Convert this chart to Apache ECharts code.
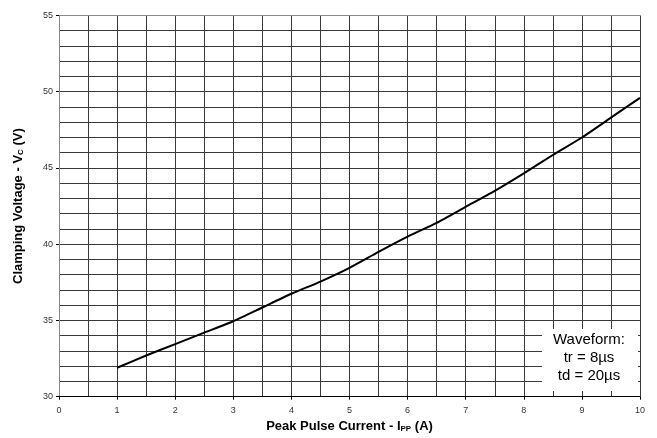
<!DOCTYPE html>
<html>
<head>
<meta charset="utf-8">
<script src="https://cdn.jsdelivr.net/npm/echarts@6/dist/echarts.min.js"></script>
<style>
  html, body { margin: 0; padding: 0; background: #fff; }
  #chart { width: 657px; height: 438px; }
</style>
</head>
<body>
<div id="chart"></div>
<script>
// Peak pulse current (A) vs clamping voltage (V)
const currents = [1, 1.5, 2, 2.5, 3, 3.5, 4, 4.5, 5, 5.5, 6, 6.5, 7, 7.5, 8, 8.5, 9, 9.5, 10];
const voltages = [31.9, 32.7, 33.45, 34.2, 34.95, 35.85, 36.75, 37.55, 38.45, 39.5, 40.5, 41.4, 42.45, 43.5, 44.65, 45.85, 47.0, 48.3, 49.6];
const noteLines = ["Waveform:", "tr = 8\u00b5s", "td = 20\u00b5s"];

const font = "'Liberation Sans', Arial, sans-serif";
const gridColor = "#3a3a3a";

const chart = echarts.init(document.getElementById("chart"));

chart.setOption({
  animation: false,
  textStyle: { fontFamily: font },
  grid: { left: 59, right: 17, top: 15.5, bottom: 41.3 },
  xAxis: [
    {
      type: "value",
      min: 0,
      max: 10,
      interval: 1,
      name: "Peak Pulse Current - I{sub|PP} (A)",
      nameLocation: "middle",
      nameGap: 21,
      nameTextStyle: {
        fontFamily: font,
        fontSize: 13,
        fontWeight: "bold",
        color: "#000",
        rich: {
          sub: { fontSize: 8, fontWeight: "bold", fontFamily: font, color: "#000", verticalAlign: "bottom", padding: [4, 0, 0, 0] },
        },
      },
      axisLine: { show: true, lineStyle: { color: "#000", width: 1 } },
      axisTick: { show: true, length: 3, lineStyle: { color: "#000" } },
      axisLabel: { color: "#333", fontSize: 9, fontFamily: font, margin: 9 },
      splitLine: { show: false },
    },
    {
      type: "value",
      min: 0,
      max: 10,
      interval: 0.5,
      position: "top",
      axisLine: { show: true, lineStyle: { color: "#888" } },
      axisTick: { show: false },
      axisLabel: { show: false },
      splitLine: { show: true, lineStyle: { color: gridColor, width: 1 } },
    },
  ],
  yAxis: [
    {
      type: "value",
      min: 30,
      max: 55,
      interval: 5,
      name: "Clamping Voltage - V{sub|C} (V)",
      nameLocation: "middle",
      nameGap: 34,
      nameTextStyle: {
        fontFamily: font,
        fontSize: 13,
        fontWeight: "bold",
        color: "#000",
        rich: {
          sub: { fontSize: 8, fontWeight: "bold", fontFamily: font, color: "#000", verticalAlign: "bottom", padding: [4, 0, 0, 0] },
        },
      },
      axisLine: { show: true, lineStyle: { color: "#000", width: 1 } },
      axisTick: { show: true, length: 3, lineStyle: { color: "#000" } },
      axisLabel: { color: "#333", fontSize: 9, fontFamily: font, margin: 6 },
      splitLine: { show: false },
    },
    {
      type: "value",
      min: 30,
      max: 55,
      interval: 1,
      position: "right",
      axisLine: { show: true, lineStyle: { color: "#888" } },
      axisTick: { show: false },
      axisLabel: { show: false },
      splitLine: { show: true, lineStyle: { color: gridColor, width: 1 } },
    },
  ],
  series: [
    {
      type: "line",
      xAxisIndex: 0,
      yAxisIndex: 0,
      data: currents.map((c, i) => [c, voltages[i]]),
      smooth: 0.2,
      symbol: "none",
      lineStyle: { color: "#000", width: 2 },
      z: 5,
    },
  ],
  graphic: [
    {
      type: "rect",
      shape: { x: 542, y: 329, width: 96, height: 62 },
      style: { fill: "#fff" },
      z: 10,
    },
    {
      type: "text",
      x: 589,
      y: 331,
      style: {
        text: noteLines.join("\n"),
        font: "15px " + font,
        fill: "#000",
        align: "center",
        lineHeight: 18,
      },
      z: 11,
    },
  ],
});
</script>
</body>
</html>
